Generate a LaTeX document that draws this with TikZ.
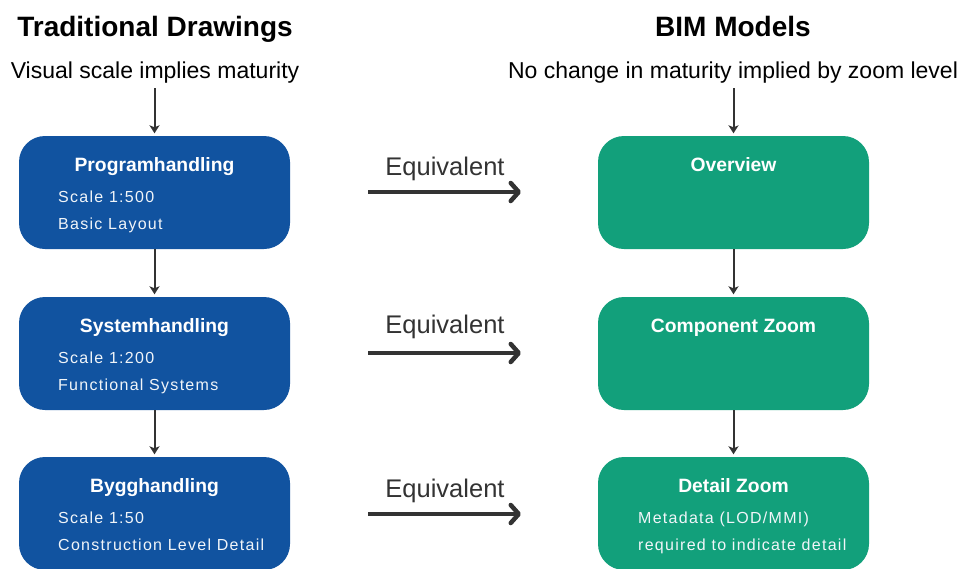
\documentclass[tikz,border=0pt]{standalone}
\usepackage{fontspec}
\setmainfont{Liberation Sans}
\usetikzlibrary{arrows.meta}
\definecolor{stageblue}{HTML}{1153A0}
\definecolor{zoomgreen}{HTML}{12A07B}
\definecolor{ink}{HTML}{333333}
\newfontfamily\spacedfont[LetterSpace=8]{Liberation Sans}
\tikzset{
  stagebox/.style={rounded corners=26pt, minimum width=271pt, minimum height=113pt, inner sep=0pt},
  bluebox/.style={stagebox, fill=stageblue},
  greenbox/.style={stagebox, fill=zoomgreen},
  heading/.style={font=\fontsize{28}{32}\selectfont\bfseries, text=black, inner sep=0pt, anchor=base},
  subheading/.style={font=\fontsize{23}{27}\selectfont, text=black, inner sep=0pt, anchor=base},
  boxtitle/.style={font=\fontsize{19.3}{23}\selectfont\bfseries, text=white, inner sep=0pt, anchor=base},
  boxline/.style={font=\spacedfont\fontsize{16}{19}\selectfont, text=white!94!stageblue, anchor=base west, inner sep=0pt},
  eqlabel/.style={font=\fontsize{25.5}{30}\selectfont, text=ink, inner sep=0pt, anchor=base},
  flowarrow/.style={draw=ink, line width=2pt, shorten >=2.5pt, -{Stealth[length=8pt,width=10pt,inset=2pt]}},
  eqarrow/.style={draw=ink, line width=4.5pt, -{Straight Barb[length=8pt,width=18pt,line cap=round,line join=round]}}
}
\begin{document}
\begin{tikzpicture}[x=1pt,y=-1pt]
\useasboundingbox (0,0) rectangle (959,568);
\clip (0,0) rectangle (959,568);

% column headings
\node[heading] (tradhead) at (155,36) {Traditional Drawings};
\node[subheading] (tradsub) at (155,78) {Visual scale implies maturity};
\node[heading] (bimhead) at (733,36) {BIM Models};
\node[subheading] (bimsub) at (733,78) {No change in maturity implied by zoom level};

% traditional drawing stages
\node[bluebox] (L1) at (154.5,192.5) {};
\node[bluebox] (L2) at (154.5,353.5) {};
\node[bluebox] (L3) at (154.5,513.5) {};

\node[boxtitle] (L1t) at (154.5,171) {Programhandling};
\node[boxline] (L1a) at (58,202) {Scale 1:500};
\node[boxline] (L1b) at (58,229) {Basic Layout};

\node[boxtitle] (L2t) at (154.5,332) {Systemhandling};
\node[boxline] (L2a) at (58,363) {Scale 1:200};
\node[boxline] (L2b) at (58,390) {Functional Systems};

\node[boxtitle] (L3t) at (154.5,492) {Bygghandling};
\node[boxline] (L3a) at (58,523) {Scale 1:50};
\node[boxline] (L3b) at (58,550) {Construction Level Detail};

% BIM zoom levels
\node[greenbox] (R1) at (733.5,192.5) {};
\node[greenbox] (R2) at (733.5,353.5) {};
\node[greenbox] (R3) at (733.5,513.5) {};

\node[boxtitle] (R1t) at (733.5,171) {Overview};
\node[boxtitle] (R2t) at (733.5,332) {Component Zoom};
\node[boxtitle] (R3t) at (733.5,492) {Detail Zoom};
\node[boxline] (R3a) at (638,523) {Metadata (LOD/MMI)};
\node[boxline] (R3b) at (638,550) {required to indicate detail};

% vertical flow
\draw[flowarrow] (L1.north |- 0,88) -- (L1.north);
\draw[flowarrow] (L1.south) -- (L2.north);
\draw[flowarrow] (L2.south) -- (L3.north);
\draw[flowarrow] (R1.north |- 0,88) -- (R1.north);
\draw[flowarrow] (R1.south) -- (R2.north);
\draw[flowarrow] (R2.south) -- (R3.north);

% equivalence arrows
\coordinate (e1s) at (368,192);
\coordinate (e1e) at (521,192);
\coordinate (e2s) at (368,353);
\coordinate (e2e) at (521,353);
\coordinate (e3s) at (368,514);
\coordinate (e3e) at (521,514);
\node[eqlabel] (eq1) at (445,175) {Equivalent};
\node[eqlabel] (eq2) at (445,333) {Equivalent};
\node[eqlabel] (eq3) at (445,497) {Equivalent};
\draw[eqarrow] (e1s) -- (e1e);
\draw[eqarrow] (e2s) -- (e2e);
\draw[eqarrow] (e3s) -- (e3e);
\end{tikzpicture}
\end{document}
